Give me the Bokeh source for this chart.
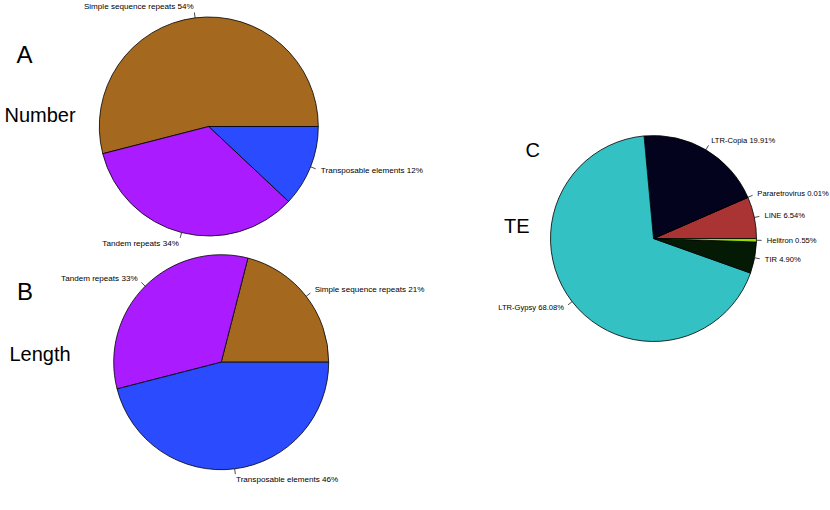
import numpy as np
from bokeh.plotting import figure
from bokeh.models import Range1d, ColumnDataSource
from bokeh.core.properties import value
from bokeh.embed import file_html
from bokeh.resources import INLINE

# ---- data ----
number_labels = ["Simple sequence repeats", "Tandem repeats", "Transposable elements"]
number_pct = [54, 34, 12]
number_colors = ["#A4691F", "#AA1BFF", "#2B4BFF"]

length_labels = ["Simple sequence repeats", "Tandem repeats", "Transposable elements"]
length_pct = [21, 33, 46]
length_colors = ["#A4691F", "#AA1BFF", "#2B4BFF"]

te_labels = ["LINE", "Pararetrovirus", "LTR-Copia", "LTR-Gypsy", "TIR", "Helitron"]
te_pct = [6.54, 0.01, 19.91, 68.08, 4.90, 0.55]
te_colors = ["#AA3333", "#AA3333", "#03031E", "#33C1C3", "#051A05", "#99DD00"]

W, H = 830, 510
FONT = "Liberation Sans"

p = figure(width=W, height=H, x_range=Range1d(0, W), y_range=Range1d(0, H),
           output_backend="svg", toolbar_location=None, min_border=0)
p.axis.visible = False
p.grid.visible = False
p.outline_line_color = None
p.background_fill_color = "white"


def Y(y):
    # page coordinates run downward; the plot's y axis runs upward
    return H - y


def draw_pie(cx, cy, r, labels, pcts, colors, label_size, fmt):
    pcts = np.asarray(pcts, dtype=float)
    frac = pcts / pcts.sum()
    ends = np.cumsum(frac) * 2 * np.pi
    starts = np.concatenate([[0.0], ends[:-1]])
    src = ColumnDataSource(dict(x=[cx] * len(pcts), y=[Y(cy)] * len(pcts),
                                start=starts, end=ends, color=colors))
    p.wedge(x="x", y="y", radius=r, start_angle="start", end_angle="end",
            direction="anticlock", fill_color="color", line_color="black",
            line_width=0.8, source=src)
    mid = (starts + ends) / 2
    c, s = np.cos(mid), np.sin(mid)
    p.segment(x0=cx + r * c, y0=Y(cy) + r * s,
              x1=cx + 1.05 * r * c, y1=Y(cy) + 1.05 * r * s,
              line_color="black", line_width=0.7)
    texts = [fmt(lab, v) for lab, v in zip(labels, pcts)]
    tx = cx + 1.1 * r * c
    ty = Y(cy) + 1.1 * r * s
    left = c >= 0
    for mask, align in ((left, "left"), (~left, "right")):
        if mask.any():
            p.text(x=tx[mask], y=ty[mask], text=[t for t, m in zip(texts, mask) if m],
                   text_font=value(FONT), text_font_size=value(label_size),
                   text_align=align, text_baseline="middle", text_color="black")


draw_pie(208.3, 126.0, 109.5, number_labels, number_pct, number_colors, "8.1px",
         lambda lab, v: f"{lab} {int(round(v))}%")
draw_pie(220.7, 361.7, 107.5, length_labels, length_pct, length_colors, "8.1px",
         lambda lab, v: f"{lab} {int(round(v))}%")
draw_pie(653.0, 238.0, 103.0, te_labels, te_pct, te_colors, "7.6px",
         lambda lab, v: f"{lab} {v:.2f}%")

# panel letters and titles
p.text(x=[16], y=[Y(54)], text=["A"], text_font=value(FONT), text_font_size=value("24px"),
       text_baseline="alphabetic", text_align="left")
p.text(x=[4], y=[Y(114.3)], text=["Number"], text_font=value(FONT), text_font_size=value("20px"),
       text_baseline="alphabetic", text_align="left")
p.text(x=[16.5], y=[Y(291)], text=["B"], text_font=value(FONT), text_font_size=value("24px"),
       text_baseline="alphabetic", text_align="left")
p.text(x=[9], y=[Y(353.3)], text=["Length"], text_font=value(FONT), text_font_size=value("20px"),
       text_baseline="alphabetic", text_align="left")
p.text(x=[525], y=[Y(149.3)], text=["C"], text_font=value(FONT), text_font_size=value("20px"),
       text_baseline="alphabetic", text_align="left")
p.text(x=[503.5], y=[Y(225.7)], text=["TE"], text_font=value(FONT), text_font_size=value("20px"),
       text_baseline="alphabetic", text_align="left")

open("out.html", "w").write(file_html(p, INLINE))
